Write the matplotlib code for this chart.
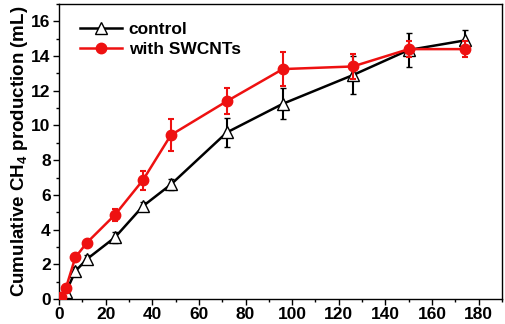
import matplotlib
matplotlib.use("Agg")
import matplotlib.pyplot as plt
from matplotlib.ticker import MultipleLocator
from matplotlib.lines import Line2D

time_h = [1, 3, 7, 12, 24, 36, 48, 72, 96, 126, 150, 174]
control = [0.05, 0.4, 1.6, 2.3, 3.55, 5.35, 6.6, 9.6, 11.25, 12.9, 14.35, 14.9]
control_err = [0.05, 0.2, 0.25, 0.25, 0.3, 0.25, 0.3, 0.85, 0.9, 1.1, 1.0, 0.6]
swcnt = [0.12, 0.65, 2.4, 3.25, 4.85, 6.85, 9.45, 11.4, 13.25, 13.4, 14.4, 14.4]
swcnt_err = [0.05, 0.1, 0.15, 0.1, 0.35, 0.55, 0.9, 0.75, 1.0, 0.7, 0.45, 0.45]

plt.rcParams['font.family'] = ['Liberation Sans', 'DejaVu Sans']
plt.rcParams['font.weight'] = 'bold'
plt.rcParams['mathtext.fontset'] = 'custom'
plt.rcParams['mathtext.bf'] = 'Liberation Sans:bold'
plt.rcParams['mathtext.rm'] = 'Liberation Sans:bold'

RED = '#ee1111'
fig = plt.figure(figsize=(5.05, 3.24), dpi=100)
ax = fig.add_axes([59/505, 25/324, 443/505, 295/324])

ax.errorbar(time_h, control, yerr=control_err, color='black', lw=1.8,
            marker='^', markersize=8, markerfacecolor='white', markeredgecolor='black',
            markeredgewidth=1.0, capsize=2.5, elinewidth=1.5, capthick=1.5, zorder=3)
ax.errorbar(time_h, swcnt, yerr=swcnt_err, color=RED, lw=1.8,
            marker='o', markersize=7.5, markerfacecolor=RED, markeredgecolor=RED,
            capsize=2.5, elinewidth=1.5, capthick=1.5, zorder=4)

ax.set_xlim(0, 190)
ax.set_ylim(0, 17)
ax.xaxis.set_major_locator(MultipleLocator(20))
ax.xaxis.set_minor_locator(MultipleLocator(10))
ax.yaxis.set_major_locator(MultipleLocator(2))
ax.yaxis.set_minor_locator(MultipleLocator(1))
ax.tick_params(which='major', direction='out', length=4, width=1, labelsize=12.5, pad=2)
ax.tick_params(which='minor', direction='out', length=2.5, width=1)
for lab in ax.get_xticklabels() + ax.get_yticklabels():
    lab.set_fontweight('bold')
for s in ax.spines.values():
    s.set_linewidth(1.0)

ax.set_ylabel('Cumulative CH$_{\\mathbf{4}}$ production (mL)', fontsize=13.5,
              fontweight='bold', labelpad=1)

handles = [
    Line2D([], [], color='black', lw=1.8, marker='^', markersize=8,
           markerfacecolor='white', markeredgecolor='black', markeredgewidth=1.0),
    Line2D([], [], color=RED, lw=1.8, marker='o', markersize=7.5,
           markerfacecolor=RED, markeredgecolor=RED),
]
leg = ax.legend(handles, ['control', 'with SWCNTs'], loc='upper left', frameon=False,
                fontsize=12.5, handlelength=2.4, borderaxespad=0.3, labelspacing=0.25,
                handletextpad=0.4, bbox_to_anchor=(0.02, 0.98))
for t in leg.get_texts():
    t.set_fontweight('bold')

fig.savefig('out.png', dpi=100)
